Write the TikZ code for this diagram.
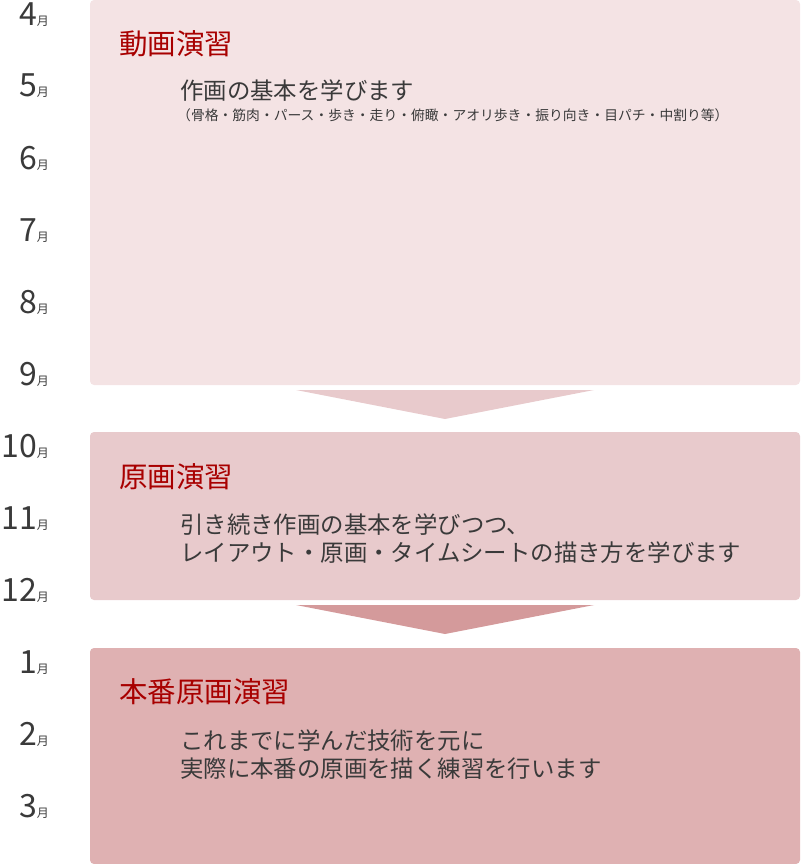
\documentclass[tikz,border=0pt]{standalone}
\usepackage{fontspec}
\setmainfont{Noto Sans CJK JP}
\definecolor{boxA}{HTML}{F4E3E4}
\definecolor{boxB}{HTML}{E8CACC}
\definecolor{boxC}{HTML}{DFB1B2}
\definecolor{arrA}{HTML}{E8CACC}
\definecolor{arrB}{HTML}{D49A9B}
\definecolor{ttl}{HTML}{A80000}
\definecolor{txt}{HTML}{3A3A3A}
\tikzset{
  month/.style={anchor=base east, inner sep=0pt, text=txt},
  title/.style={anchor=base west, inner sep=0pt, text=ttl, font=\fontsize{28.5}{28.5}\selectfont},
  body/.style={anchor=base west, inner sep=0pt, text=txt, font=\fontsize{23.4}{23.4}\selectfont},
  small/.style={anchor=base west, inner sep=0pt, text=txt, font=\fontsize{13.8}{13.8}\selectfont},
  panel/.style={rounded corners=4pt},
}
\newcommand{\mon}[1]{{\fontsize{32}{32}\selectfont #1}{\fontsize{12}{12}\selectfont 月}}
\begin{document}
\begin{tikzpicture}[x=1pt,y=-1pt]
\useasboundingbox (0,0) rectangle (800,864);
% panels
\fill[boxA,panel] (90,0) rectangle (800,385);
\fill[boxB,panel] (90,432) rectangle (800,600);
\fill[boxC,panel] (90,648) rectangle (800,864);
% arrows
\coordinate (a1l) at (296,390); \coordinate (a1r) at (594,390); \coordinate (a1t) at (445,419);
\fill[arrA] (a1l) -- (a1r) -- (a1t) -- cycle;
\coordinate (a2l) at (296,605); \coordinate (a2r) at (594,605); \coordinate (a2t) at (445,634);
\fill[arrB] (a2l) -- (a2r) -- (a2t) -- cycle;
% months
\node[month] (m4) at (49,25.5) {\mon{4}};
\node[month] (m5) at (49,97) {\mon{5}};
\node[month] (m6) at (49,169) {\mon{6}};
\node[month] (m7) at (49,241) {\mon{7}};
\node[month] (m8) at (49,313) {\mon{8}};
\node[month] (m9) at (49,385) {\mon{9}};
\node[month] (m10) at (49,457) {\mon{10}};
\node[month] (m11) at (49,529) {\mon{11}};
\node[month] (m12) at (49,601) {\mon{12}};
\node[month] (m1) at (49,673) {\mon{1}};
\node[month] (m2) at (49,745) {\mon{2}};
\node[month] (m3) at (49,817) {\mon{3}};
% box 1
\node[title] (t1) at (119,55) {動画演習};
\node[body] (b1) at (180,100) {作画の基本を学びます};
\node[small] (s1) at (177,121) {（骨格・筋肉・パース・歩き・走り・俯瞰・アオリ歩き・振り向き・目パチ・中割り等）};
% box 2
\node[title] (t2) at (119,487) {原画演習};
\node[body] (b2a) at (180,533) {引き続き作画の基本を学びつつ、};
\node[body] (b2b) at (180,561) {レイアウト・原画・タイムシートの描き方を学びます};
% box 3
\node[title] (t3) at (119,702.5) {本番原画演習};
\node[body] (b3a) at (180,749) {これまでに学んだ技術を元に};
\node[body] (b3b) at (180,777) {実際に本番の原画を描く練習を行います};
\end{tikzpicture}
\end{document}
